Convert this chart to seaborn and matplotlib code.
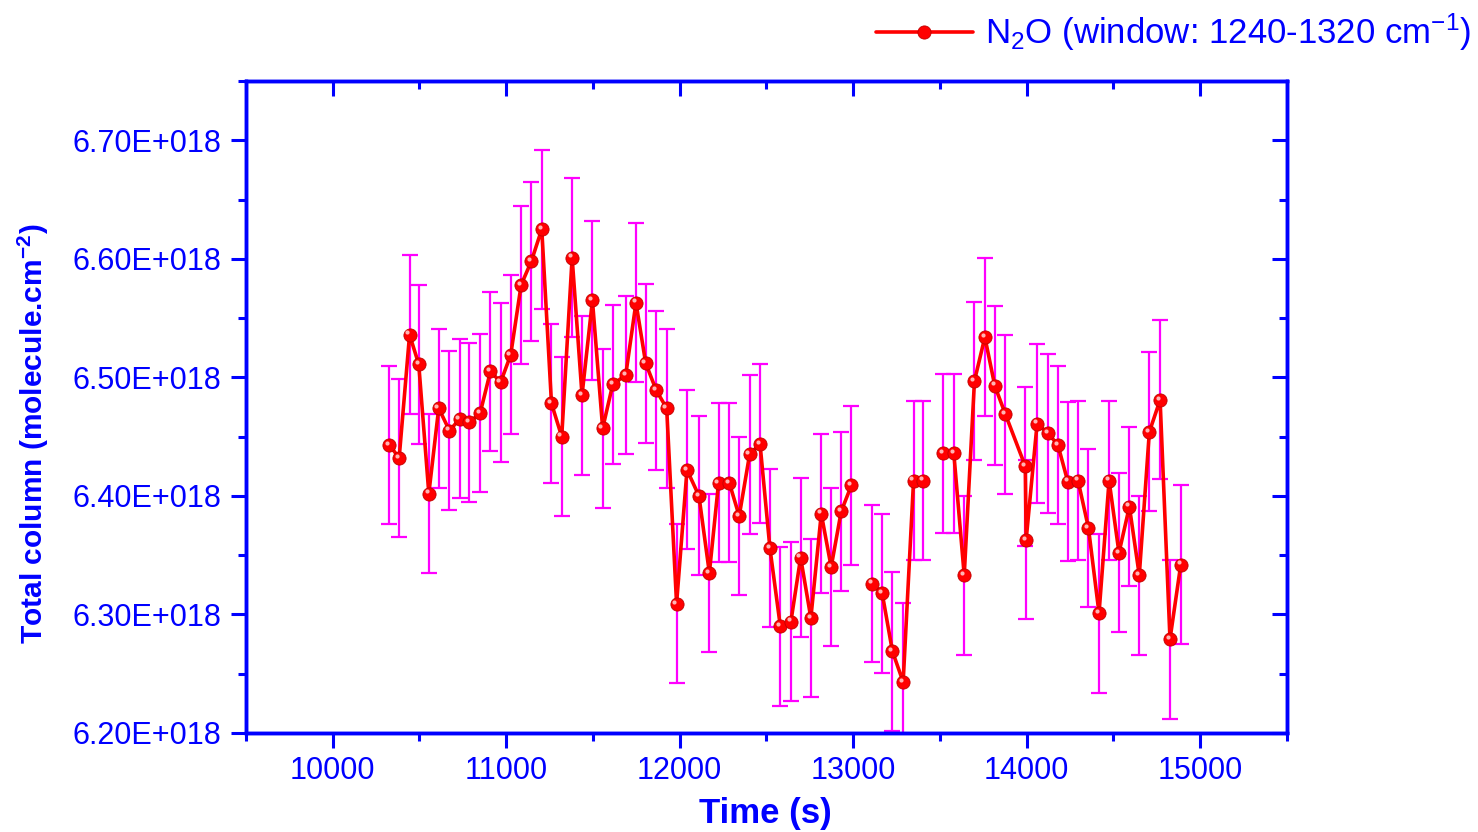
import numpy as np
import pandas as pd
import matplotlib
matplotlib.use("Agg")
import matplotlib.pyplot as plt
import matplotlib.transforms as mtransforms
import seaborn as sns
from matplotlib.lines import Line2D
from matplotlib.ticker import FuncFormatter, MultipleLocator

# time (s) of each measurement, NaN rows mark the gaps in the series
time_s = [10328, 10384, 10444, 10497, 10555, 10612, 10674, 10733, 10789, 10851,
          10910, 10969, 11027, 11087, 11146, 11206, 11262, 11321, 11381, 11438,
          11498, 11557, 11615, 11690, 11749, 11805, 11866, 11926, 11983, 12043,
          12112, 12172, 12225, 12287, 12344, 12404, 12464, 12521, 12581, 12642,
          12698, 12757, 12817, 12874, 12932, 12991, 13050, 13111, 13168, 13227,
          13289, 13349, 13406, 13465, 13521, 13581, 13641, 13700, 13760, 13817,
          13878, 13993, 13998, 14061, 14123, 14181, 14238, 14297, 14357, 14418,
          14476, 14533, 14593, 14650, 14708, 14770, 14827, 14889]

# N2O total column, units of 1E+018 molecule.cm-2
column = [6.443, 6.432, 6.536, 6.511, 6.402, 6.474, 6.455, 6.465, 6.462, 6.470,
          6.505, 6.496, 6.519, 6.578, 6.598, 6.625, 6.478, 6.450, 6.601, 6.485,
          6.565, 6.457, 6.494, 6.502, 6.563, 6.512, 6.489, 6.474, 6.309, 6.422,
          6.400, 6.335, 6.411, 6.411, 6.383, 6.435, 6.444, 6.356, 6.290, 6.294,
          6.348, 6.297, 6.385, 6.340, 6.387, 6.409, np.nan, 6.326, 6.318, 6.269,
          6.243, 6.413, 6.413, np.nan, 6.436, 6.436, 6.333, 6.497, 6.534, 6.493,
          6.469, 6.425, 6.363, 6.461, 6.453, 6.443, 6.412, 6.413, 6.373, 6.301,
          6.413, 6.352, 6.391, 6.333, 6.454, 6.481, 6.279, 6.342]

error = [0.067, 0.067, 0.067, 0.067, 0.067, 0.067, 0.067, 0.067, 0.067, 0.067,
         0.067, 0.067, 0.067, 0.067, 0.067, 0.067, 0.067, 0.067, 0.067, 0.067,
         0.067, 0.067, 0.067, 0.067, 0.067, 0.067, 0.067, 0.067, 0.067, 0.067,
         0.067, 0.067, 0.067, 0.067, 0.067, 0.067, 0.067, 0.067, 0.067, 0.067,
         0.067, 0.067, 0.067, 0.067, 0.067, 0.067, np.nan, 0.066, 0.067, 0.067,
         0.067, 0.067, 0.067, np.nan, 0.067, 0.067, 0.067, 0.067, 0.067, 0.067,
         0.067, 0.067, 0.067, 0.067, 0.067, 0.067, 0.067, 0.067, 0.067, 0.067,
         0.067, 0.067, 0.067, 0.067, 0.067, 0.067, 0.067, 0.067]

xticks = [10000, 11000, 12000, 13000, 14000, 15000]
yticks = [6.20, 6.30, 6.40, 6.50, 6.60, 6.70]
xlim = (9500, 15500)
ylim = (6.20, 6.75)

BLUE = "#0000FF"
RED = "#FF0000"
MAGENTA = "#FF00FF"

sns.set_style("white")
plt.rcParams["font.family"] = ["Liberation Sans", "DejaVu Sans"]
plt.rcParams["mathtext.fontset"] = "custom"
plt.rcParams["mathtext.rm"] = "Liberation Sans"
plt.rcParams["mathtext.bf"] = "Liberation Sans:bold"
plt.rcParams["mathtext.default"] = "regular"

df = pd.DataFrame({"time": time_s, "col": column, "err": error})
df["seg"] = df["col"].isna().cumsum()
df = df.dropna()

fig = plt.figure(figsize=(14.78, 8.32), dpi=100)
ax = fig.add_axes([0.1663, 0.119, 0.7043, 0.7836])

ax.errorbar(df["time"], df["col"], yerr=df["err"], fmt="none",
            ecolor=MAGENTA, elinewidth=1.6, capsize=5.8, capthick=1.6, zorder=2)

sns.lineplot(data=df, x="time", y="col", units="seg", estimator=None,
             color=RED, linewidth=2.6, marker="o", markersize=9.5,
             markerfacecolor=RED, markeredgecolor="#C00000", markeredgewidth=0.6,
             legend=False, ax=ax, zorder=3)

# small glossy highlight on the markers
shift = mtransforms.ScaledTranslation(-1.6 / 72, 1.6 / 72, fig.dpi_scale_trans)
ax.plot(df["time"], df["col"], linestyle="none", marker="o", markersize=3,
        markerfacecolor="#FFB4B4", markeredgewidth=0, zorder=4,
        transform=ax.transData + shift)

ax.set_xlim(*xlim)
ax.set_ylim(*ylim)
ax.set_xticks(xticks)
ax.set_yticks(yticks)
ax.xaxis.set_minor_locator(MultipleLocator(500))
ax.yaxis.set_minor_locator(MultipleLocator(0.05))
ax.yaxis.set_major_formatter(FuncFormatter(lambda v, p: f"{v:.2f}E+018"))

for s in ax.spines.values():
    s.set_color(BLUE)
    s.set_linewidth(2.4)

ax.tick_params(axis="both", which="both", bottom=True, left=True, top=False, right=False)
ax.tick_params(axis="both", which="major", direction="out", length=10.5, width=2.2,
               color=BLUE, labelcolor=BLUE, labelsize=22, pad=7)
ax.tick_params(axis="both", which="minor", direction="out", length=5.5, width=2.2,
               color=BLUE)
ax.tick_params(axis="x", which="major", pad=6)

# top and right: inward ticks, no labels
ax_top = ax.twiny()
ax_top.set_xlim(*xlim)
ax_top.set_xticks(xticks)
ax_top.xaxis.set_minor_locator(MultipleLocator(500))
ax_top.tick_params(axis="x", which="both", top=True, bottom=False, labeltop=False,
                   direction="in", width=2.2, color=BLUE)
ax_top.tick_params(axis="x", which="major", length=10.5)
ax_top.tick_params(axis="x", which="minor", length=5.5)
ax_top.tick_params(axis="y", left=False, right=False, labelleft=False)

ax_right = ax.twinx()
ax_right.set_ylim(*ylim)
ax_right.set_yticks(yticks)
ax_right.yaxis.set_minor_locator(MultipleLocator(0.05))
ax_right.tick_params(axis="y", which="both", right=True, left=False, labelright=False,
                     direction="in", width=2.2, color=BLUE)
ax_right.tick_params(axis="y", which="major", length=10.5)
ax_right.tick_params(axis="y", which="minor", length=5.5)
ax_right.tick_params(axis="x", bottom=False, top=False, labelbottom=False)

for a in (ax_top, ax_right):
    for s in a.spines.values():
        s.set_color(BLUE)
        s.set_linewidth(2.4)

ax.set_xlabel("Time (s)", fontsize=25, fontweight="bold", color=BLUE)
ax.set_ylabel(r"Total column (molecule.cm$^{\mathbf{-2}}$)", fontsize=21.5,
              fontweight="bold", color=BLUE)
ax.xaxis.set_label_coords(0.499, -0.098)
ax.yaxis.set_label_coords(-0.187, 0.459)

handle = Line2D([], [], color=RED, linewidth=2.6, marker="o", markersize=9.5,
                markerfacecolor=RED, markeredgecolor="#C00000", markeredgewidth=0.6)
leg = fig.legend([handle], [r"N$_2$O (window: 1240-1320 cm$^{-1}$)"],
                 loc="upper right", bbox_to_anchor=(1.0, 0.994), frameon=False,
                 fontsize=25, handlelength=2.8, handletextpad=0.35,
                 borderaxespad=0.0, borderpad=0.2)
for t in leg.get_texts():
    t.set_color(BLUE)

fig.savefig("out.png", dpi=100)
